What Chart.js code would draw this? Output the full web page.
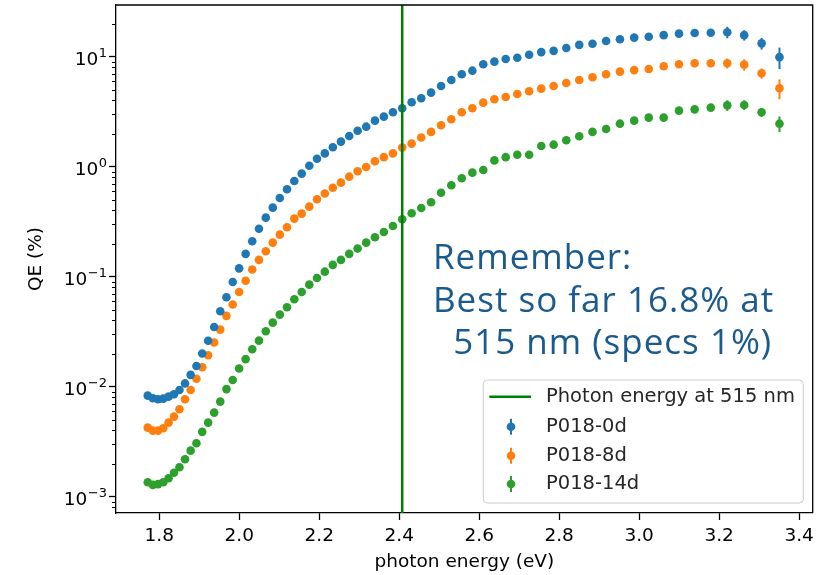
<!DOCTYPE html>
<html>
<head>
<meta charset="utf-8">
<script src="https://cdn.jsdelivr.net/npm/chart.js@4.4.1/dist/chart.umd.min.js"></script>
<style>
  html, body { margin: 0; padding: 0; background: #fff; }
  #wrap { position: relative; width: 830px; height: 575px; }
  #note {
    position: absolute;
    left: 433px;
    top: 235px;
    font-family: "Open Sans", sans-serif;
    font-size: 35px;
    line-height: 42.5px;
    letter-spacing: 1px;
    color: #1b5a8c;
    white-space: pre;
  }
</style>
</head>
<body>
<div id="wrap">
  <canvas id="chart" width="830" height="575"></canvas>
  <div id="note">Remember:
Best so far 16.8% at
  515 nm (specs 1%)</div>
</div>
<script>
// photon energy (eV) of each measured point, 700 nm down to 370 nm
const energies = [
  1.7712, 1.784, 1.7969, 1.81, 1.8233, 1.8368, 1.8505, 1.8644, 1.8785, 1.8929,
  1.9074, 1.9222, 1.9373, 1.9525, 1.968, 1.9837, 1.9997, 2.016, 2.0325, 2.0493,
  2.0664, 2.0838, 2.1014, 2.1194, 2.1377, 2.1562, 2.1752, 2.1944, 2.214, 2.234,
  2.2543, 2.275, 2.296, 2.3174, 2.3393, 2.3616, 2.3843, 2.4075, 2.4311, 2.4551,
  2.4797, 2.5047, 2.5303, 2.5564, 2.583, 2.6102, 2.638, 2.6663, 2.6953, 2.7249,
  2.7552, 2.7862, 2.8178, 2.8502, 2.8834, 2.9173, 2.952, 2.9876, 3.024, 3.0614,
  3.0996, 3.1388, 3.1791, 3.2204, 3.2627, 3.3062, 3.3509,
];

const qe0d = [
  0.00828, 0.00785, 0.00768, 0.00778, 0.00811, 0.00853, 0.00933, 0.0107, 0.0128, 0.0154,
  0.02, 0.0261, 0.0349, 0.0485, 0.065, 0.0893, 0.119, 0.161, 0.21, 0.273,
  0.344, 0.424, 0.519, 0.623, 0.741, 0.864, 1.02, 1.18, 1.32, 1.5,
  1.69, 1.9, 2.12, 2.31, 2.62, 2.85, 3.12, 3.4, 3.85, 4.19,
  4.71, 5.42, 6.14, 6.92, 7.46, 8.53, 9.01, 9.53, 9.79, 10.4,
  11.0, 11.3, 12.0, 12.8, 13.1, 13.9, 14.4, 14.9, 15.2, 15.7,
  16.2, 16.4, 16.5, 16.7, 15.7, 13.2, 9.9,
];
const err0d = [
  0.0004, 0.0003, 0, 0, 0, 0, 0, 0, 0, 0,
  0, 0, 0, 0, 0, 0, 0, 0, 0, 0,
  0, 0, 0, 0, 0, 0, 0, 0, 0, 0,
  0, 0, 0, 0, 0, 0, 0, 0, 0, 0,
  0, 0, 0, 0, 0, 0, 0, 0, 0, 0,
  0, 0, 0, 0, 0, 0, 0, 0, 0, 0,
  0.7, 0.9, 1.0, 2.0, 1.7, 1.6, 2.2,
];

const qe8d = [
  0.00424, 0.00398, 0.00398, 0.00419, 0.00471, 0.00534, 0.00623, 0.00768, 0.00933, 0.0118,
  0.015, 0.0193, 0.0252, 0.033, 0.044, 0.0558, 0.0726, 0.0917, 0.116, 0.142,
  0.17, 0.204, 0.241, 0.281, 0.337, 0.374, 0.433, 0.506, 0.571, 0.644,
  0.716, 0.811, 0.908, 0.994, 1.12, 1.22, 1.32, 1.49, 1.62, 1.84,
  2.07, 2.38, 2.7, 3.12, 3.4, 3.82, 4.1, 4.3, 4.58, 4.85,
  5.12, 5.41, 5.77, 6.14, 6.5, 6.92, 7.31, 7.55, 7.73, 8.18,
  8.53, 8.71, 8.71, 8.71, 8.46, 7.06, 5.16,
];
const err8d = [
  0.0002, 0, 0, 0, 0, 0, 0, 0, 0, 0,
  0, 0, 0, 0, 0, 0, 0, 0, 0, 0,
  0, 0, 0, 0, 0, 0, 0, 0, 0, 0,
  0, 0, 0, 0, 0, 0, 0, 0, 0, 0,
  0, 0, 0, 0, 0, 0, 0, 0, 0, 0,
  0, 0, 0, 0, 0, 0, 0, 0, 0, 0.4,
  0.5, 0.7, 0.5, 0.9, 1.0, 0.75, 1.05,
];

const qe14d = [
  0.00135, 0.00128, 0.0013, 0.00135, 0.00147, 0.00165, 0.00185, 0.00219, 0.00262, 0.00306,
  0.00388, 0.00471, 0.00581, 0.00731, 0.0095, 0.0115, 0.0146, 0.0178, 0.0219, 0.0262,
  0.0319, 0.0382, 0.0452, 0.0527, 0.0623, 0.0726, 0.0846, 0.0973, 0.111, 0.128,
  0.142, 0.161, 0.18, 0.204, 0.228, 0.255, 0.289, 0.333, 0.377, 0.421,
  0.475, 0.58, 0.678, 0.785, 0.882, 0.933, 1.14, 1.22, 1.285, 1.285,
  1.54, 1.585, 1.74, 1.89, 2.07, 2.2, 2.46, 2.62, 2.79, 2.79,
  3.23, 3.32, 3.44, 3.61, 3.64, 3.12, 2.46,
];
const err14d = [
  0.0001, 0.00008, 0, 0, 0, 0, 0, 0, 0, 0,
  0, 0, 0, 0, 0, 0, 0, 0, 0, 0,
  0, 0, 0, 0, 0, 0, 0, 0, 0, 0,
  0, 0, 0, 0, 0, 0, 0, 0, 0, 0,
  0, 0, 0, 0, 0, 0, 0, 0, 0, 0,
  0, 0, 0, 0, 0, 0, 0, 0, 0, 0,
  0.2, 0.2, 0.2, 0.4, 0.37, 0.3, 0.4,
];

const seriesNames = ["P018-0d", "P018-8d", "P018-14d"];
const seriesColors = ["#1f77b4", "#ff7f0e", "#2ca02c"];
const markerEnergy = 2.4075; // 515 nm
const markerLabel = "Photon energy at 515 nm";
const markerColor = "#008000";

const xTicks = [1.8, 2.0, 2.2, 2.4, 2.6, 2.8, 3.0, 3.2, 3.4];
const yTicks = [0.001, 0.01, 0.1, 1, 10];
const yTickExponents = ["\u22123", "\u22122", "\u22121", "0", "1"];

const FONT = "DejaVu Sans";
const seriesValues = [qe0d, qe8d, qe14d];
const seriesErrors = [err0d, err8d, err14d];

const datasets = seriesNames.map((name, i) => ({
  label: name,
  data: energies.map((x, j) => ({ x, y: seriesValues[i][j] })),
  errors: seriesErrors[i],
  backgroundColor: seriesColors[i],
  borderWidth: 0,
  pointRadius: 4.3,
  pointHoverRadius: 4.3,
  showLine: false,
}));

const errorBars = {
  id: "errorBars",
  beforeDatasetsDraw(chart) {
    const { ctx, scales: { x, y } } = chart;
    ctx.save();
    ctx.lineWidth = 2;
    chart.data.datasets.forEach((ds) => {
      ctx.strokeStyle = ds.backgroundColor;
      ds.data.forEach((p, j) => {
        const e = ds.errors[j];
        if (!e) return;
        const px = x.getPixelForValue(p.x);
        ctx.beginPath();
        ctx.moveTo(px, y.getPixelForValue(p.y + e));
        ctx.lineTo(px, y.getPixelForValue(Math.max(p.y - e, 1e-6)));
        ctx.stroke();
      });
    });
    ctx.restore();
  },
};

const markerLine = {
  id: "markerLine",
  afterDatasetsDraw(chart) {
    const { ctx, chartArea: a, scales: { x } } = chart;
    const px = x.getPixelForValue(markerEnergy);
    ctx.save();
    ctx.strokeStyle = markerColor;
    ctx.lineWidth = 2.5;
    ctx.beginPath();
    ctx.moveTo(px, a.top);
    ctx.lineTo(px, a.bottom);
    ctx.stroke();
    ctx.restore();
  },
};

function roundedRect(ctx, x, y, w, h, r) {
  ctx.beginPath();
  ctx.moveTo(x + r, y);
  ctx.lineTo(x + w - r, y);
  ctx.quadraticCurveTo(x + w, y, x + w, y + r);
  ctx.lineTo(x + w, y + h - r);
  ctx.quadraticCurveTo(x + w, y + h, x + w - r, y + h);
  ctx.lineTo(x + r, y + h);
  ctx.quadraticCurveTo(x, y + h, x, y + h - r);
  ctx.lineTo(x, y + r);
  ctx.quadraticCurveTo(x, y, x + r, y);
  ctx.closePath();
}

const frameAndLegend = {
  id: "frameAndLegend",
  afterDraw(chart) {
    const { ctx, chartArea: a, scales: { y } } = chart;
    ctx.save();

    // minor log ticks
    ctx.strokeStyle = "#000";
    ctx.lineWidth = 1;
    for (let p = -4; p <= 1; p++) {
      for (let m = 2; m <= 9; m++) {
        const v = m * Math.pow(10, p);
        if (v < y.min || v > y.max) continue;
        const py = Math.round(y.getPixelForValue(v)) + 0.5;
        ctx.beginPath();
        ctx.moveTo(a.left, py);
        ctx.lineTo(a.left - 4, py);
        ctx.stroke();
      }
    }

    // y tick labels as 10 with a raised exponent
    ctx.fillStyle = "#000";
    ctx.textAlign = "right";
    ctx.textBaseline = "alphabetic";
    yTicks.forEach((v, i) => {
      const ty = y.getPixelForValue(v);
      const right = a.left - 9;
      ctx.font = `13px "${FONT}"`;
      const expW = ctx.measureText(yTickExponents[i]).width;
      ctx.fillText(yTickExponents[i], right, ty + 0.5);
      ctx.font = `18.5px "${FONT}"`;
      ctx.fillText("10", right - expW - 0.5, ty + 8.3);
    });

    // top and right spines
    ctx.lineWidth = 1.3;
    ctx.beginPath();
    ctx.moveTo(a.left, a.top);
    ctx.lineTo(a.right, a.top);
    ctx.lineTo(a.right, a.bottom);
    ctx.stroke();

    // legend box
    const w = 320, h = 123;
    const lx = a.right - 9.4 - w;
    const ly = a.bottom - 10 - h;
    roundedRect(ctx, lx, ly, w, h, 4);
    ctx.fillStyle = "rgba(255,255,255,0.8)";
    ctx.fill();
    ctx.strokeStyle = "#cccccc";
    ctx.lineWidth = 1;
    ctx.stroke();

    ctx.font = `19.5px "${FONT}"`;
    ctx.textBaseline = "middle";
    ctx.textAlign = "left";
    const textX = lx + 62.7;
    const rows = [16.7, 46.7, 75.7, 104];

    ctx.strokeStyle = markerColor;
    ctx.lineWidth = 2.5;
    ctx.beginPath();
    ctx.moveTo(lx + 6, ly + rows[0]);
    ctx.lineTo(lx + 47.7, ly + rows[0]);
    ctx.stroke();
    ctx.fillStyle = "#262626";
    ctx.fillText(markerLabel, textX, ly + rows[0]);

    chart.data.datasets.forEach((ds, i) => {
      const cy = ly + rows[i + 1];
      const cx = lx + 27.7;
      ctx.strokeStyle = ds.backgroundColor;
      ctx.lineWidth = 2;
      ctx.beginPath();
      ctx.moveTo(cx, cy - 8);
      ctx.lineTo(cx, cy + 8);
      ctx.stroke();
      ctx.fillStyle = ds.backgroundColor;
      ctx.beginPath();
      ctx.arc(cx, cy, 4.3, 0, Math.PI * 2);
      ctx.fill();
      ctx.fillStyle = "#262626";
      ctx.fillText(ds.label, textX, cy);
    });

    ctx.restore();
  },
};

new Chart(document.getElementById("chart"), {
  type: "scatter",
  data: { datasets },
  options: {
    responsive: false,
    animation: false,
    devicePixelRatio: 1,
    events: [],
    layout: { padding: { left: 0, right: 17.3, top: 5, bottom: 0 } },
    plugins: {
      legend: { display: false },
      tooltip: { enabled: false },
    },
    scales: {
      x: {
        type: "linear",
        min: 1.6918,
        max: 3.434,
        afterBuildTicks: (s) => {
          s.ticks = xTicks.map((v) => ({ value: v }));
        },
        afterFit: (s) => {
          s.height = 62;
        },
        ticks: {
          callback: (v) => Number(v).toFixed(1),
          color: "#000",
          font: { family: FONT, size: 18.5 },
          padding: 5,
          maxRotation: 0,
          autoSkip: false,
        },
        grid: {
          drawOnChartArea: false,
          drawTicks: true,
          tickLength: 7,
          tickColor: "#000",
          tickWidth: 1.3,
        },
        border: { color: "#000", width: 1.3 },
        title: {
          display: true,
          text: "photon energy (eV)",
          color: "#000",
          font: { family: FONT, size: 18.5 },
          padding: { top: 0, bottom: 2 },
        },
      },
      y: {
        type: "logarithmic",
        min: 7.1e-4,
        max: 29.5,
        afterBuildTicks: (s) => {
          s.ticks = yTicks.map((v) => ({ value: v }));
        },
        afterFit: (s) => {
          s.width = 116;
        },
        ticks: {
          display: false,
          autoSkip: false,
        },
        grid: {
          drawOnChartArea: false,
          drawTicks: true,
          tickLength: 7,
          tickColor: "#000",
          tickWidth: 1.3,
        },
        border: { color: "#000", width: 1.3 },
        title: {
          display: true,
          text: "QE (%)",
          color: "#000",
          font: { family: FONT, size: 18.5 },
          padding: { top: 25.5, bottom: 0 },
        },
      },
    },
  },
  plugins: [errorBars, markerLine, frameAndLegend],
});
</script>
</body>
</html>
